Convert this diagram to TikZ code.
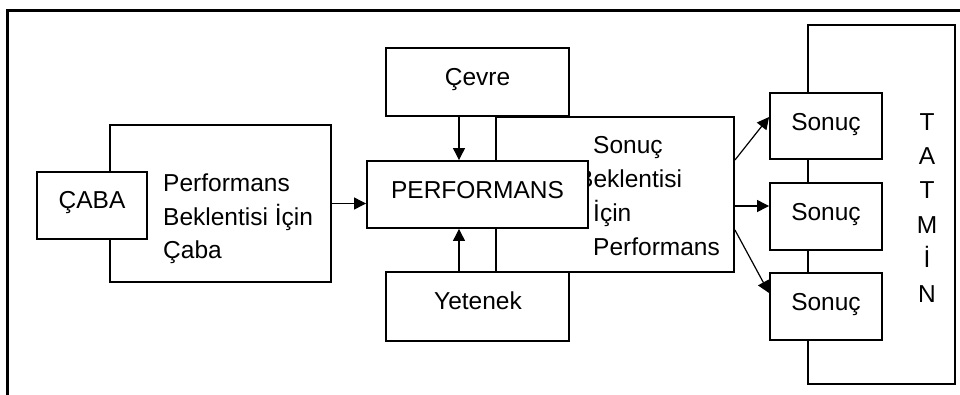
\documentclass[tikz,border=0pt]{standalone}
\usepackage{fontspec}
\setmainfont{Liberation Sans}
\usetikzlibrary{arrows.meta}

\begin{document}
\begin{tikzpicture}[x=1pt,y=-1pt,
  box/.style={draw, line width=1.9pt, fill=white, rectangle, inner sep=0pt},
  lbl/.style={font=\fontsize{24.5}{33.5}\selectfont, inner sep=0pt, anchor=base},
  para/.style={font=\fontsize{24.5}{33.5}\selectfont, inner sep=0pt, anchor=base west, align=left},
  arr/.style={line width=1.2pt, -{Triangle[length=12pt,width=12pt]}},
]
\useasboundingbox (0,0) rectangle (960,394);

% outer frame (top and left sides)
\draw[line width=2.4pt] (7.5,395) -- (7.5,10.5) -- (962,10.5);

% effort block (multi-line texts are placed by their last baseline)
\node[box, minimum width=221pt, minimum height=157pt] (pbc) at (220.5,203.5) {};
\node[para] (pbct) at (163,258.5) {Performans\\Beklentisi İçin\\Çaba};
\node[box, minimum width=110pt, minimum height=67pt] (caba) at (92,205.5) {};
\node[lbl] (cabat) at (92,208) {ÇABA};

% performance-to-outcome block
\node[box, minimum width=238pt, minimum height=155pt] (sbp) at (615,194.5) {};
\node[para, font=\fontsize{24.5}{34}\selectfont] (sbpt) at (593,255) {Sonuç\\\hspace*{-16pt}Beklentisi\\İçin\\Performans};

% environment, ability and performance
\node[box, minimum width=183pt, minimum height=68pt] (cevre) at (477.5,82) {};
\node[lbl] (cevret) at (477.5,85) {Çevre};
\node[box, minimum width=183pt, minimum height=69pt] (yetenek) at (477.5,306.5) {};
\node[lbl] (yetenekt) at (478,309) {Yetenek};
\node[box, minimum width=221pt, minimum height=67pt] (perf) at (477.5,194.5) {};
\node[lbl] (perft) at (477.5,198) {PERFORMANS};

% satisfaction and outcomes
\node[box, minimum width=147pt, minimum height=359pt] (tatmin) at (881.5,204.5) {};
\node[font=\fontsize{24.5}{34.4}\selectfont, inner sep=0pt, anchor=base, align=center] (tatmint) at (927,302) {T\\A\\T\\M\\İ\\N};
\node[box, minimum width=112pt, minimum height=66pt] (s1) at (826,126) {};
\node[lbl] (s1t) at (826,130) {Sonuç};
\node[box, minimum width=112pt, minimum height=67pt] (s2) at (826,216.5) {};
\node[lbl] (s2t) at (826,220) {Sonuç};
\node[box, minimum width=112pt, minimum height=67pt] (s3) at (826,306.5) {};
\node[lbl] (s3t) at (826,310) {Sonuç};

% connectors
\draw[arr] (pbc.east) -- (pbc.east -| perf.west);
\draw[arr] ([xshift=-18.5pt]cevre.south) -- ([xshift=-18.5pt]cevre.south |- perf.north);
\draw[arr] ([xshift=-18.5pt]yetenek.north) -- ([xshift=-18.5pt]yetenek.north |- perf.south);
\draw[arr] ([yshift=34.5pt]sbp.east) -- ([yshift=9pt]s1.west);
\draw[arr] ([yshift=-11.5pt]sbp.east) -- ([yshift=-11.5pt]sbp.east -| s2.west);
\draw[arr] ([yshift=-35.5pt]sbp.east) -- ([yshift=13.5pt]s3.west);
\end{tikzpicture}
\end{document}
